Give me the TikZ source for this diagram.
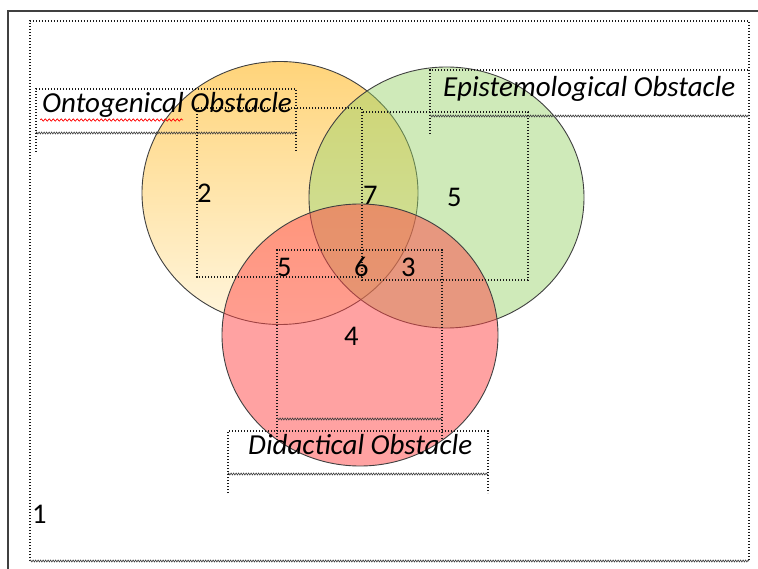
\documentclass[tikz,border=0pt]{standalone}
\usepackage{fontspec}
\setmainfont{Carlito}
\usetikzlibrary{decorations.pathmorphing}
\definecolor{framegray}{HTML}{404040}
\definecolor{otop}{HTML}{FFD47A}
\definecolor{obot}{HTML}{FFF6DE}
\definecolor{gbase}{RGB}{150,210,100}
\definecolor{rbase}{RGB}{255,70,70}
\begin{document}
\begin{tikzpicture}[x=1pt,y=-1pt,
  dots/.style={line width=1.2pt, dash pattern=on 1.2pt off 1.8pt, draw=black!90},
  wavy/.style={line width=0.6pt, draw=black!75, decorate, decoration={zigzag, segment length=2.5pt, amplitude=1pt}},
  lbl/.style={font=\fontsize{29}{31}\selectfont\itshape, inner sep=0pt, anchor=base west},
  num/.style={font=\fontsize{28.5}{30}\selectfont, inner sep=0pt, anchor=base west},
  rim/.style={draw=black!75, line width=0.9pt}]
\useasboundingbox (0,0) rectangle (758,569);
\fill[white] (0,0) rectangle (758,569);
% outer solid frame
\draw[framegray, line width=1.6pt] (8,569) -- (8,11) -- (758,11);

% circles
\shade[top color=otop, bottom color=obot] (280,193) ellipse [x radius=138pt, y radius=131.5pt];
\draw[rim] (280,193) ellipse [x radius=138pt, y radius=131.5pt];
\fill[gbase, fill opacity=0.45] (446.5,197.5) ellipse [x radius=137.5pt, y radius=130.5pt];
\draw[rim] (446.5,197.5) ellipse [x radius=137.5pt, y radius=130.5pt];
\fill[rbase, fill opacity=0.5] (360,335) ellipse [x radius=138pt, y radius=131pt];
\draw[rim] (360,335) ellipse [x radius=138pt, y radius=131pt];

% outer dotted box
\draw[dots] (30,561) -- (30,21) -- (749,21) -- (749,561);
\draw[wavy] (30,561) -- (749,561);

% Ontogenical box
\draw[dots] (36,152) -- (36,89) -- (296,89) -- (296,152);
\draw[wavy] (36,133) -- (296,133);
% Epistemological box
\draw[dots] (430,134) -- (430,70) -- (749,70);
\draw[wavy] (430,116) -- (749,116);
% Didactical box
\draw[dots] (228,493) -- (228,431) -- (488,431) -- (488,493);
\draw[wavy] (228,474) -- (488,474);

% inner number boxes
\draw[dots] (197,108) rectangle (362,277);
\draw[dots] (362,112) rectangle (528,280);
\draw[dots] (277,440) -- (277,250) -- (442,250) -- (442,440);
\draw[wavy] (277,419) -- (442,419);

% labels
\node[lbl] (onto) at (42,113) {Ontogenical Obstacle};
\node[lbl] (epi) at (443,97) {Epistemological Obstacle};
\node[lbl] (did) at (248,454) {Didactical Obstacle};
\draw[red, line width=0.7pt, decorate, decoration={snake, segment length=4pt, amplitude=1.2pt}] (40,120) -- (183,120);

% numbers
\node[num] (n2) at (197,203) {2};
\node[num] (n7) at (363,205) {7};
\node[num] (n5a) at (447,207) {5};
\node[num] (n5b) at (277,277) {5};
\node[num] (n6) at (354,277) {6};
\node[num] (n3) at (401,277) {3};
\node[num] (n4) at (344,345) {4};
\node[num] (n1) at (32,523) {1};
\end{tikzpicture}
\end{document}
